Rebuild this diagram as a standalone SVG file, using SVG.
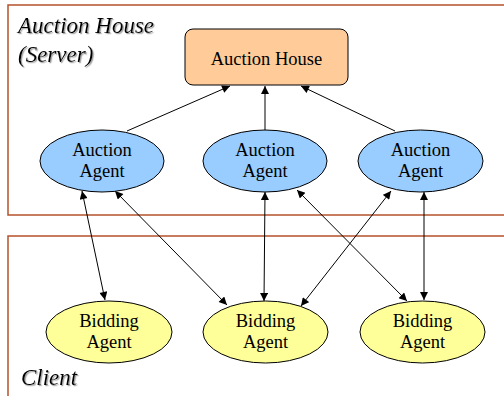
<svg xmlns="http://www.w3.org/2000/svg" width="504" height="396" viewBox="0 0 504 396">
<defs>
<marker id="ah" viewBox="0 0 10 10" refX="10" refY="5" markerWidth="9" markerHeight="8" markerUnits="userSpaceOnUse" orient="auto-start-reverse">
<path d="M0,0 L10,5 L0,10 Z" fill="#000"/>
</marker>
<filter id="sh" x="-10%" y="-20%" width="130%" height="150%">
<feDropShadow dx="1.2" dy="1.2" stdDeviation="0.4" flood-color="#999" flood-opacity="0.9"/>
</filter>
<style>
.frame{fill:none;stroke:#b5522b;stroke-width:1.5}
.lbl{font-style:italic;font-size:23px;fill:#000;filter:url(#sh)}
.t{font-size:18.5px;fill:#000;text-anchor:middle}
.aa{fill:#99ccff;stroke:#000;stroke-width:1}
.ba{fill:#ffff99;stroke:#000;stroke-width:1}
.c{stroke:#000;stroke-width:1;fill:none}
.one{marker-end:url(#ah)}
.two{marker-start:url(#ah);marker-end:url(#ah)}
</style>
</defs>
<rect width="504" height="396" fill="#fff"/>
<g font-family="Liberation Serif, serif">
<g id="server-frame">
<rect class="frame" x="8" y="5" width="510" height="210"/>
<text class="lbl" x="18" y="33">Auction House</text>
<text class="lbl" x="18" y="62">(Server)</text>
</g>
<g id="client-frame">
<rect class="frame" x="8" y="236" width="510" height="180"/>
<text class="lbl" x="21" y="385">Client</text>
</g>
<g id="connectors">
<line class="c one" x1="127" y1="131" x2="230" y2="86"/>
<line class="c one" x1="265" y1="130" x2="265" y2="86"/>
<line class="c one" x1="395" y1="131" x2="301" y2="86"/>
<line class="c two" x1="82" y1="191" x2="105" y2="300"/>
<line class="c two" x1="115" y1="191" x2="227" y2="305"/>
<line class="c two" x1="265" y1="192" x2="264" y2="301"/>
<line class="c two" x1="297" y1="190" x2="407" y2="301"/>
<line class="c two" x1="391" y1="191" x2="301" y2="306"/>
<line class="c two" x1="424" y1="192" x2="424" y2="300"/>
</g>
<g id="auction-house">
<rect x="185" y="29" width="163" height="56" rx="8" fill="#ffcc99" stroke="#000" stroke-width="1"/>
<text class="t" x="266.5" y="65">Auction House</text>
</g>
<g id="auction-agent-1">
<ellipse class="aa" cx="102" cy="161" rx="62" ry="31"/>
<text class="t" x="102" y="156">Auction</text>
<text class="t" x="102" y="177">Agent</text>
</g>
<g id="auction-agent-2">
<ellipse class="aa" cx="265" cy="161" rx="62" ry="31"/>
<text class="t" x="265" y="156">Auction</text>
<text class="t" x="265" y="177">Agent</text>
</g>
<g id="auction-agent-3">
<ellipse class="aa" cx="420.5" cy="161" rx="62.5" ry="31"/>
<text class="t" x="420.5" y="156">Auction</text>
<text class="t" x="420.5" y="177">Agent</text>
</g>
<g id="bidding-agent-1">
<ellipse class="ba" cx="109" cy="332" rx="63" ry="31"/>
<text class="t" x="109" y="327">Bidding</text>
<text class="t" x="109" y="348">Agent</text>
</g>
<g id="bidding-agent-2">
<ellipse class="ba" cx="265.5" cy="332" rx="62.5" ry="31"/>
<text class="t" x="265.5" y="327">Bidding</text>
<text class="t" x="265.5" y="348">Agent</text>
</g>
<g id="bidding-agent-3">
<ellipse class="ba" cx="422.5" cy="332" rx="62.5" ry="31"/>
<text class="t" x="422.5" y="327">Bidding</text>
<text class="t" x="422.5" y="348">Agent</text>
</g>
</g>
</svg>
